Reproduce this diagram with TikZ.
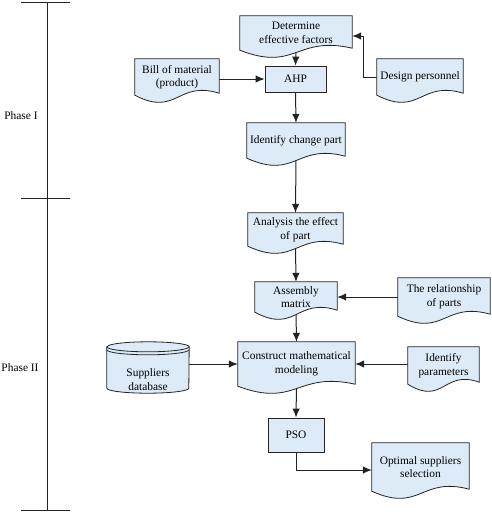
\documentclass[tikz,border=0pt]{standalone}
\usepackage{fontspec}
\setmainfont{Liberation Serif}
\usetikzlibrary{arrows.meta,calc}

\pgfdeclarelayer{lines}
\pgfdeclarelayer{shapes}
\pgfsetlayers{lines,shapes,main}

\definecolor{boxblue}{RGB}{220,235,247}
\definecolor{edgegray}{RGB}{35,35,35}

% outline of a document box with a wavy bottom edge
\newcommand{\docpath}[1]{(#1.north west) -- (#1.north east) -- ([yshift=2pt]#1.south east)
  .. controls ($(#1.south east)!0.5!(#1.south west)+(0,-15)$) and ($(#1.south east)!0.5!(#1.south west)+(0,22)$) .. (#1.south west) -- cycle}

\begin{document}
\begin{tikzpicture}[
    x=1pt, y=-1pt,
    font=\fontsize{11.4}{13.5}\selectfont,
    myarrow/.style={draw=edgegray, line width=1pt, -{Latex[length=9pt,width=7.5pt]}},
    docnode/.style={align=center, inner sep=0pt},
    procnode/.style={draw=edgegray, fill=boxblue, line width=0.8pt, align=center, inner sep=0pt},
    docfill/.style={draw=edgegray, fill=boxblue, line width=0.8pt},
    phase/.style={draw=edgegray, line width=1pt}
  ]
  \useasboundingbox (0,0) rectangle (491,520);

  % phases
  \draw[phase] (47,2) -- (47,510);
  \foreach \y in {2,198,510}
    \draw[phase] (21,\y) -- (70,\y);
  \node (ph1) at (21,116) {Phase I};
  \node (ph2) at (20,368) {Phase II};

  % phase I
  \node[docnode, minimum width=112pt, minimum height=34pt] (det) at (296,33) {Determine\\effective factors};
  \node[docnode, minimum width=84pt, minimum height=36pt] (bom) at (177,77) {Bill of material\\(product)};
  \node[docnode, minimum width=86pt, minimum height=36pt] (dsg) at (420,77) {Design personnel};
  \node[procnode, minimum width=61pt, minimum height=26pt] (ahp) at (295.5,79) {AHP};
  \node[docnode, minimum width=98pt, minimum height=35pt] (chg) at (296,140.5) {Identify change part};

  % phase II
  \node[docnode, minimum width=95pt, minimum height=33pt] (eff) at (295.5,229.5) {Analysis the effect\\of part};
  \node[docnode, minimum width=82pt, minimum height=30pt] (asm) at (296,297) {Assembly\\matrix};
  \node[docnode, minimum width=92pt, minimum height=38pt] (rel) at (444,297) {The relationship\\of parts};
  \node[docnode, minimum width=117pt, minimum height=44pt] (con) at (296.5,364) {Construct mathematical\\modeling};
  \node[docnode, minimum width=71pt, minimum height=37pt] (par) at (443.5,365.5) {Identify\\parameters};
  \node[minimum width=82pt, minimum height=51pt,
    label={[name=dbtext, align=center, yshift=-12pt]center:Suppliers\\database}] (db) at (148,367.5) {};
  \node[procnode, minimum width=56pt, minimum height=34pt] (pso) at (296,435) {PSO};
  \node[docnode, minimum width=97pt, minimum height=48pt] (opt) at (420.5,467) {Optimal suppliers\\selection};

  % shapes behind the texts
  \begin{pgfonlayer}{shapes}
    \foreach \n in {det,bom,dsg,chg,eff,asm,rel,con,par,opt}
      \path[docfill] \docpath{\n};
    \path[docfill] ([yshift=-5pt]db.north west) -- ([yshift=5pt]db.south west)
      arc[start angle=180, end angle=360, x radius=41pt, y radius=5pt]
      -- ([yshift=-5pt]db.north east)
      arc[start angle=0, end angle=180, x radius=41pt, y radius=5pt] -- cycle;
    \draw[docfill, fill=none] ([yshift=-5pt]db.north west)
      arc[start angle=180, end angle=360, x radius=41pt, y radius=5pt];
    \draw[docfill, fill=none] ([yshift=-8pt]db.north west)
      arc[start angle=180, end angle=360, x radius=41pt, y radius=5pt];
  \end{pgfonlayer}

  % connectors
  \begin{pgfonlayer}{lines}
    \draw[myarrow] (det.south) -- (ahp.north);
    \draw[myarrow] (bom.east |- ahp) -- (ahp.west);
    \draw[myarrow] (dsg.west) -- ++(-13,0) |- ([yshift=-3pt]det.east);
    \draw[myarrow] (ahp.south) -- (chg.north);
    \draw[myarrow] (chg.south) -- (eff.north);
    \draw[myarrow] (eff.south) -- (asm.north);
    \draw[myarrow] (rel.west |- asm) -- (asm.east);
    \draw[myarrow] (asm.south) -- (con.north);
    \draw[myarrow] (db.east |- con) -- (con.west);
    \draw[myarrow] (par.west |- con) -- (con.east);
    \draw[myarrow] (con.south) -- (pso.north);
    \draw[myarrow] (pso.south) |- ([yshift=-3pt]opt.west);
  \end{pgfonlayer}

\end{tikzpicture}
\end{document}
